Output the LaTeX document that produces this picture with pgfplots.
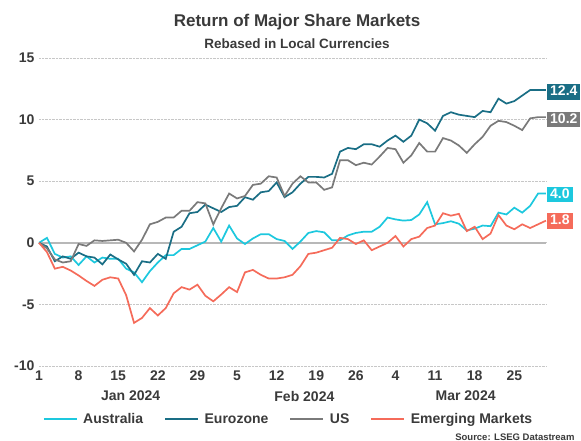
\documentclass[border=0pt]{standalone}
\usepackage{fontspec}
\setmainfont{Liberation Sans}
\usepackage{pgfplots}
\usepackage{pgfplotstable}
\pgfplotsset{compat=1.18}
\definecolor{au}{RGB}{29,200,222}
\definecolor{ez}{RGB}{26,110,133}
\definecolor{us}{RGB}{122,122,122}
\definecolor{em}{RGB}{245,107,90}
\definecolor{txt}{RGB}{58,58,58}
\pgfplotstableread{
k au ez us em
0 0 0 0 0
1 0.4 -0.3 -0.45 -0.75
2 -0.9 -1.5 -1.35 -2.1
3 -1.2 -1.1 -1.6 -1.95
4 -1.1 -1.3 -1.5 -2.25
5 -1.8 -0.8 -0.1 -2.65
6 -1.1 -1.1 -0.25 -3.1
7 -1.6 -1.2 0.2 -3.5
8 -1.2 -1.75 0.15 -3.0
9 -1.3 -0.95 0.2 -2.8
10 -1.3 -1.35 0.25 -2.9
11 -2.1 -1.7 0.0 -4.25
12 -2.4 -2.6 -0.7 -6.5
13 -3.2 -1.5 0.25 -6.1
14 -2.3 -1.6 1.5 -5.3
15 -1.6 -0.9 1.7 -5.9
16 -1.0 -1.3 2.05 -5.3
17 -1.0 0.9 2.05 -4.1
18 -0.5 1.3 2.6 -3.6
19 -0.5 2.4 2.6 -3.8
20 -0.2 2.5 3.3 -3.4
21 0.1 3.1 3.2 -4.3
22 1.2 2.8 1.5 -4.75
23 0.1 2.5 2.8 -4.2
24 1.4 2.9 4.0 -3.6
25 0.35 3.0 3.6 -4.0
26 -0.1 3.7 3.8 -2.4
27 0.35 3.5 4.7 -2.2
28 0.7 4.1 4.8 -2.6
29 0.7 4.2 5.4 -2.9
30 0.3 4.9 5.3 -2.9
31 0.15 3.7 3.8 -2.8
32 -0.5 4.1 4.8 -2.6
33 0.1 4.8 5.4 -1.9
34 0.8 5.35 4.9 -0.9
35 0.95 5.35 4.9 -0.8
36 0.85 5.3 4.3 -0.6
37 0.2 5.6 4.5 -0.4
38 0.2 7.4 6.7 0.4
39 0.6 7.7 6.7 0.3
40 0.8 7.6 6.3 -0.1
41 0.9 8.0 6.5 0.2
42 0.9 8.0 6.35 -0.6
43 1.3 7.8 7.0 -0.3
44 2.05 8.3 7.7 0.0
45 1.9 8.7 7.6 0.55
46 1.8 8.2 6.5 -0.3
47 1.85 8.7 7.1 0.3
48 2.3 10.0 8.1 0.5
49 3.3 9.7 7.4 1.2
50 1.5 9.1 7.4 1.4
51 1.6 10.3 8.5 2.4
52 1.75 10.6 8.3 2.2
53 1.55 10.4 7.9 2.35
54 1.0 10.3 7.3 0.95
55 1.15 10.2 8.0 1.3
56 1.4 10.7 8.6 0.3
57 1.35 10.6 9.5 0.75
58 2.45 11.7 9.9 2.25
59 2.3 11.3 9.8 1.4
60 2.85 11.5 9.5 1.1
61 2.45 11.95 9.15 1.5
62 3.0 12.4 10.1 1.2
63 4.0 12.4 10.2 1.5
64 4.0 12.4 10.2 1.8
}\markets
\begin{document}
\begin{tikzpicture}
\path[use as bounding box] (-39pt,-75pt) rectangle (542pt,366pt);
\begin{axis}[
  at={(0pt,0pt)}, anchor=south west,
  scale only axis, width=507pt, height=308pt,
  xmin=0, xmax=89.6, ymin=-10, ymax=15,
  clip=false,
  axis line style={draw=none},
  major tick length=0pt,
  ytick={-10,-5,0,5,10,15},
  xtick={0,7,14,21,28,35,42,49,56,63,70,77,84},
  xticklabels={1,8,15,22,29,5,12,19,26,4,11,18,25},
  ymajorgrids,
  grid style={densely dotted, line width=0.6pt, black!22},
  /pgf/number format/assume math mode=true,
  ticklabel style={font=\fontsize{14}{16}\selectfont\bfseries, text=txt},
  yticklabel style={anchor=east, xshift=-1pt},
  xticklabel style={anchor=north, yshift=-1pt},
  legend columns=4,
  legend style={draw=none, fill=none, at={(0.007,-0.172)}, anchor=west,
    inner sep=0pt, font=\fontsize{14}{16}\selectfont\bfseries, text=txt,
    nodes={inner sep=0pt},
    /tikz/every odd column/.append style={column sep=5.5pt},
    /tikz/every even column/.append style={column sep=21pt}},
  legend image code/.code={\draw[#1, line width=2pt] (0pt,0pt) -- (33pt,0pt);},
]
\addplot[black!28, line width=1.8pt, forget plot] coordinates {(0,0) (89.6,0)};
\addplot[au, line width=1.7pt] table[x expr=\thisrow{k}*1.4, y=au] {\markets};
\addlegendentry{Australia}
\addplot[ez, line width=1.7pt] table[x expr=\thisrow{k}*1.4, y=ez] {\markets};
\addlegendentry{Eurozone}
\addplot[us, line width=1.7pt] table[x expr=\thisrow{k}*1.4, y=us] {\markets};
\addlegendentry{US}
\addplot[em, line width=1.7pt] table[x expr=\thisrow{k}*1.4, y=em] {\markets};
\addlegendentry{Emerging Markets}
\tikzset{lab/.style={anchor=west, xshift=1pt, text=white, inner xsep=3pt, inner ysep=1.5pt,
  text height=10pt, text depth=2.5pt, font=\fontsize{14}{16}\selectfont\bfseries}}
\node[lab, fill=ez] at (axis cs:89.6,12.25) {12.4};
\node[lab, fill=us] at (axis cs:89.6,10.0) {10.2};
\node[lab, fill=au] at (axis cs:89.6,3.9) {4.0};
\node[lab, fill=em] at (axis cs:89.6,1.75) {1.8};
\node[font=\fontsize{14}{16}\selectfont\bfseries, text=txt] at (axis cs:16.2,-10) [yshift=-30pt] {Jan 2024};
\node[font=\fontsize{14}{16}\selectfont\bfseries, text=txt] at (axis cs:46.9,-10) [yshift=-30pt] {Feb 2024};
\node[font=\fontsize{14}{16}\selectfont\bfseries, text=txt] at (axis cs:75.4,-10) [yshift=-30pt] {Mar 2024};
\node[font=\fontsize{17}{19}\selectfont\bfseries, text=txt] at (rel axis cs:0.509,1) [yshift=36pt] {Return of Major Share Markets};
\node[font=\fontsize{13.5}{15}\selectfont\bfseries, text=txt] at (rel axis cs:0.509,1) [yshift=14pt] {Rebased in Local Currencies};
\node[font=\fontsize{9.5}{11}\selectfont\bfseries, text=txt, anchor=east] at (rel axis cs:1,0) [xshift=32pt, yshift=-71pt] {Source: LSEG Datastream};
\end{axis}
\end{tikzpicture}
\end{document}
